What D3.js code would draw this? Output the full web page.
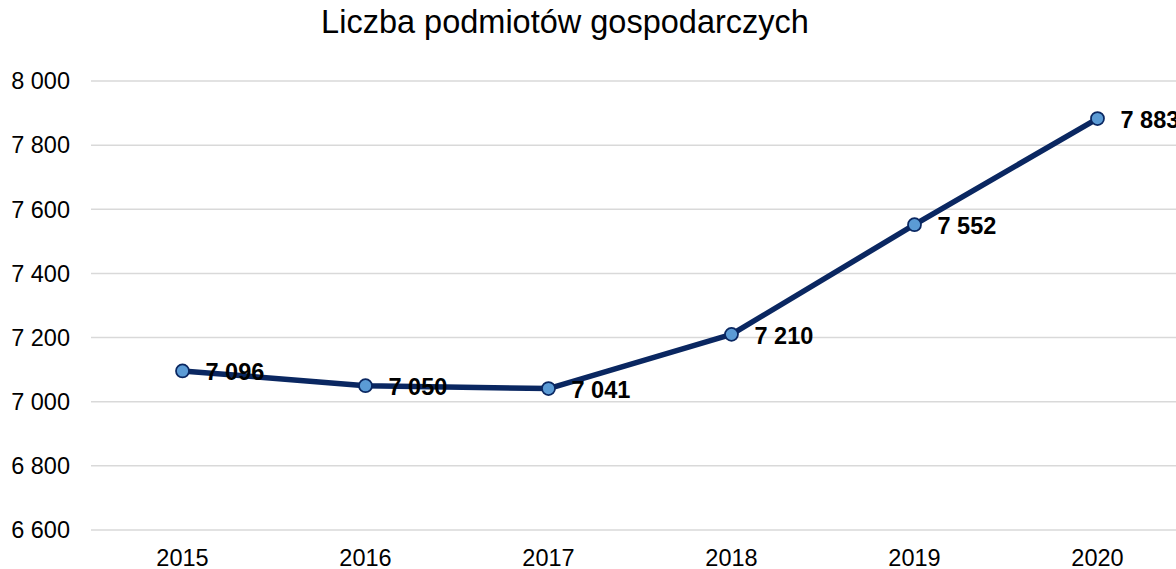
<!DOCTYPE html>
<meta charset="utf-8">
<head>
    <script type="text/javascript" src="https://cdn.jsdelivr.net/npm/d3@7/dist/d3.min.js"></script>
    <style>
        body { margin: 0; background: #fff; }
        svg { font-family: "Liberation Sans", Arial, sans-serif; display: block; }
    </style>
</head>
<body>
    <div id="chart"></div>
    <script>
        // data
        let years = ['2015', '2016', '2017', '2018', '2019', '2020']
        let values = [7096, 7050, 7041, 7210, 7552, 7883]
        let y_ticks = [6600, 6800, 7000, 7200, 7400, 7600, 7800, 8000]

        let svg_width = 1176
        let svg_height = 569

        let svg = d3.select("#chart")
            .append("svg")
            .attr("width", svg_width)
            .attr("height", svg_height)

        let x = d3.scaleBand()
            .domain(years)
            .range([91, 91 + 6 * 183])

        let y = d3.scaleLinear()
            .domain([6600, 8000])
            .range([530, 81])

        let fmt = function (v) { return d3.format(",")(v).replace(/,/g, " ") }

        // title
        svg.append("text")
            .attr("x", 565)
            .attr("y", 33)
            .attr("text-anchor", "middle")
            .style("font-size", "32.5px")
            .attr("fill", "#000")
            .text("Liczba podmiotów gospodarczych")

        // gridlines
        svg.append("g")
            .selectAll("line")
            .data(y_ticks)
            .enter()
            .append("line")
            .attr("x1", 91)
            .attr("x2", svg_width)
            .attr("y1", d => y(d))
            .attr("y2", d => y(d))
            .attr("stroke", "#d9d9d9")
            .attr("stroke-width", 1.5)

        // y labels
        svg.append("g")
            .selectAll("text")
            .data(y_ticks)
            .enter()
            .append("text")
            .attr("x", 70)
            .attr("y", d => y(d))
            .attr("dy", "0.35em")
            .attr("text-anchor", "end")
            .style("font-size", "23.5px")
            .attr("fill", "#000")
            .text(d => fmt(d))

        // x labels
        svg.append("g")
            .selectAll("text")
            .data(years)
            .enter()
            .append("text")
            .attr("x", d => x(d) + x.bandwidth() / 2)
            .attr("y", 565.5)
            .attr("text-anchor", "middle")
            .style("font-size", "23.5px")
            .attr("fill", "#000")
            .text(d => d)

        let pts = years.map((d, i) => ({ year: d, value: values[i] }))

        let line = d3.line()
            .x(d => x(d.year) + x.bandwidth() / 2)
            .y(d => y(d.value))

        svg.append("path")
            .datum(pts)
            .attr("d", line)
            .attr("fill", "none")
            .attr("stroke", "#0a2761")
            .attr("stroke-width", 5.5)
            .attr("stroke-linejoin", "round")
            .attr("stroke-linecap", "round")

        svg.append("g")
            .selectAll("circle")
            .data(pts)
            .enter()
            .append("circle")
            .attr("cx", d => x(d.year) + x.bandwidth() / 2)
            .attr("cy", d => y(d.value))
            .attr("r", 6.5)
            .attr("fill", "#5b9bd5")
            .attr("stroke", "#0a2761")
            .attr("stroke-width", 1.75)

        // data labels
        svg.append("g")
            .selectAll("text")
            .data(pts)
            .enter()
            .append("text")
            .attr("x", d => x(d.year) + x.bandwidth() / 2 + 23)
            .attr("y", d => y(d.value) + 1)
            .attr("dy", "0.35em")
            .style("font-size", "23.5px")
            .style("font-weight", "bold")
            .attr("fill", "#000")
            .text(d => fmt(d.value))
    </script>
</body>
</html>
